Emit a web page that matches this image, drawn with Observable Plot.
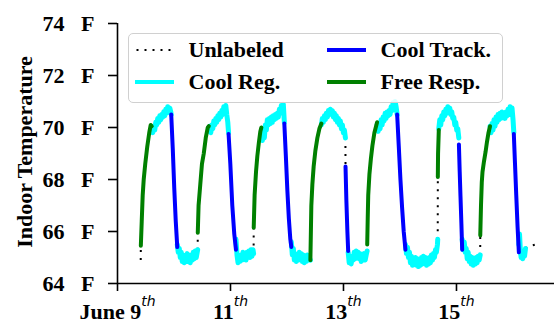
<!DOCTYPE html>
<html>
<head>
<meta charset="utf-8">
<script src="https://cdn.jsdelivr.net/npm/d3@7"></script>
<script src="https://cdn.jsdelivr.net/npm/@observablehq/plot@0.6"></script>
<style>
  body { margin: 0; background: #fff; }
  #wrap { position: relative; width: 554px; height: 325px; overflow: hidden;
          font-family: "Liberation Serif", "Times New Roman", serif; font-weight: bold; color: #000; }
  #wrap svg text { white-space: pre; }
  #wrap svg [aria-label$="axis tick"] path, #wrap svg .tick line { stroke-width: 1.6px; }
</style>
</head>
<body>
<div id="wrap"></div>
<script>
// ---------- data (x = day of June, y = indoor temperature in F) ----------
const modes = ["Unlabeled", "Cool Reg.", "Cool Track.", "Free Resp."];

const xDomain = [9, 16.735];
const xTickValues = [9, 11, 13, 15];
const xTickLabels = ["June 9", "11", "13", "15"];
const xTickSuffix = "th";

const yDomain = [64, 74];
const yTickValues = [64, 66, 68, 70, 72, 74];
const yTickLabels = ["64   F", "66   F", "68   F", "70   F", "72   F", "74   F"];
const yLabel = "Indoor Temperature";

const unlabeled = [
  [[9.411,64.9],[9.413,65.45]],
  [[10.419,65.3],[10.421,65.95]],
  [[11.409,65.15],[11.411,66.15]],
  [[13.034,69.6],[13.036,68.5]],
  [[13.418,65.25],[13.420,65.5]],
  [[14.668,65.7],[14.670,68.1]],
  [[15.041,69.6],[15.043,69.35]],
  [[15.420,65.1],[15.421,65.85]],
  [[16.222,65.35],[16.31,65.45],[16.40,65.5]]
];

const coolReg = [
  [[9.606,69.95],[9.624,69.8],[9.641,70.05],[9.659,69.9],[9.677,70.2],[9.694,70.1],[9.712,70.35],[9.730,70.2],[9.748,70.45],[9.765,70.3],[9.783,70.5],[9.801,70.4],[9.818,70.6],[9.836,70.45],[9.854,70.7],[9.872,70.55],[9.889,70.8],[9.907,70.65],[9.925,70.75],[9.943,70.6],[9.951,70.5]],
  [[10.058,65.5],[10.075,65.2],[10.093,65.35],[10.111,65.0],[10.128,65.2],[10.146,64.85],[10.164,65.1],[10.182,64.8],[10.199,65.05],[10.217,64.9],[10.235,65.15],[10.252,64.85],[10.270,65.0],[10.288,64.8],[10.306,65.1],[10.323,64.9],[10.341,65.2],[10.359,64.95],[10.376,65.25],[10.394,65.0],[10.419,65.3]],
  [[10.616,69.85],[10.633,70.05],[10.651,69.8],[10.669,70.1],[10.687,69.95],[10.704,70.25],[10.722,70.1],[10.740,70.35],[10.757,70.2],[10.775,70.45],[10.793,70.3],[10.810,70.55],[10.828,70.4],[10.846,70.65],[10.864,70.5],[10.881,70.8],[10.899,70.6],[10.917,70.85],[10.934,70.5],[10.952,70.2],[10.966,69.8]],
  [[11.097,65.7],[11.115,65.1],[11.133,64.8],[11.150,65.05],[11.168,64.85],[11.186,65.1],[11.204,64.9],[11.221,65.2],[11.239,64.95],[11.257,65.15],[11.274,64.9],[11.292,65.2],[11.310,65.0],[11.327,65.25],[11.345,65.0],[11.363,65.3],[11.381,65.05],[11.398,65.3],[11.409,65.15]],
  [[11.546,69.7],[11.564,69.5],[11.581,69.9],[11.599,69.6],[11.617,70.1],[11.635,69.9],[11.652,70.3],[11.670,70.1],[11.688,70.35],[11.705,70.15],[11.723,70.4],[11.741,70.2],[11.758,70.45],[11.776,70.3],[11.794,70.5],[11.812,70.35],[11.829,70.55],[11.847,70.4],[11.865,70.7],[11.882,70.55],[11.900,70.85],[11.918,70.65],[11.935,70.9],[11.953,70.2]],
  [[12.077,65.6],[12.094,65.1],[12.112,65.35],[12.130,64.9],[12.147,65.15],[12.165,64.85],[12.183,65.1],[12.201,64.9],[12.218,65.2],[12.236,64.95],[12.254,65.15],[12.271,64.85],[12.289,65.1],[12.307,64.8],[12.324,65.05],[12.342,64.85],[12.360,65.1],[12.378,64.9],[12.395,65.0],[12.414,64.9]],
  [[12.609,70.1],[12.626,70.35],[12.644,70.2],[12.662,70.45],[12.680,70.3],[12.697,70.55],[12.715,70.4],[12.733,70.65],[12.750,70.5],[12.768,70.7],[12.786,70.5],[12.803,70.65],[12.821,70.4],[12.839,70.55],[12.857,70.3],[12.874,70.45],[12.892,70.2],[12.910,70.35],[12.927,70.1],[12.945,70.25],[12.963,69.95],[12.980,70.1],[12.998,69.8],[13.016,69.9],[13.034,69.6]],
  [[13.083,65.2],[13.101,64.8],[13.119,65.0],[13.136,64.75],[13.154,65.05],[13.172,64.9],[13.189,65.2],[13.207,64.95],[13.225,65.25],[13.243,65.0],[13.260,65.2],[13.278,64.95],[13.296,65.15],[13.313,64.85],[13.331,65.1],[13.349,64.9],[13.366,65.15],[13.384,64.9],[13.402,65.1],[13.418,65.25]],
  [[13.595,70.1],[13.613,69.85],[13.631,70.15],[13.648,69.95],[13.666,70.3],[13.684,70.1],[13.701,70.4],[13.719,70.25],[13.737,70.55],[13.754,70.35],[13.772,70.6],[13.790,70.45],[13.808,70.65],[13.825,70.5],[13.843,70.8],[13.861,70.65],[13.878,70.95],[13.896,70.75],[13.914,71.0],[13.931,70.8],[13.950,70.5]],
  [[14.097,65.5],[14.115,65.15],[14.132,65.4],[14.150,65.0],[14.168,65.2],[14.185,64.8],[14.203,65.05],[14.221,64.7],[14.239,64.95],[14.256,64.75],[14.274,65.0],[14.292,64.7],[14.309,64.95],[14.327,64.65],[14.345,64.9],[14.362,64.7],[14.380,65.0],[14.398,64.75],[14.415,65.05],[14.433,64.8],[14.451,65.0],[14.469,64.7],[14.486,64.95],[14.504,64.75],[14.522,65.0],[14.539,64.8],[14.557,65.1],[14.575,64.9],[14.592,65.15],[14.610,65.0],[14.628,65.3],[14.645,65.2],[14.663,65.5],[14.668,65.7]],
  [[14.687,69.95],[14.704,70.3],[14.722,70.1],[14.740,70.45],[14.757,70.3],[14.775,70.6],[14.793,70.45],[14.811,70.7],[14.828,70.55],[14.846,70.8],[14.864,70.65],[14.881,70.75],[14.899,70.5],[14.917,70.6],[14.934,70.35],[14.952,70.4],[14.970,70.1],[14.987,70.2],[15.005,69.9],[15.023,69.95],[15.041,69.6]],
  [[15.101,65.7],[15.119,65.3],[15.137,65.6],[15.154,65.2],[15.172,65.35],[15.190,64.95],[15.207,65.2],[15.225,64.85],[15.243,65.05],[15.260,64.75],[15.278,65.0],[15.296,64.7],[15.314,64.95],[15.331,64.75],[15.349,65.0],[15.367,64.8],[15.384,65.05],[15.402,64.9],[15.420,65.1]],
  [[15.594,70.05],[15.611,69.8],[15.629,70.15],[15.647,69.9],[15.664,70.3],[15.682,70.05],[15.700,70.4],[15.718,70.2],[15.735,70.5],[15.753,70.3],[15.771,70.55],[15.788,70.35],[15.806,70.6],[15.824,70.4],[15.841,70.55],[15.859,70.35],[15.877,70.6],[15.895,70.45],[15.912,70.7],[15.930,70.5],[15.948,70.8],[15.965,70.6],[15.983,70.75],[16.001,70.3],[16.015,69.8]],
  [[16.104,65.5],[16.116,65.9],[16.130,65.3],[16.144,65.0],[16.159,65.25],[16.173,64.95],[16.187,65.2],[16.205,65.05],[16.222,65.35]]
];

const coolTrack = [
  [[9.951,70.5],[9.978,69.2],[10.004,67.7],[10.031,66.4],[10.058,65.4]],
  [[10.966,69.75],[10.997,68.6],[11.032,67.0],[11.067,65.9],[11.097,65.3]],
  [[11.953,70.15],[11.980,68.9],[12.006,67.6],[12.033,66.5],[12.059,65.7],[12.077,65.4]],
  [[13.036,68.5],[13.051,67.2],[13.069,66.0],[13.083,65.25]],
  [[13.950,70.5],[13.978,69.3],[14.008,68.0],[14.038,66.9],[14.066,66.0],[14.097,65.3]],
  [[15.043,69.35],[15.057,68.3],[15.071,67.35],[15.087,66.3],[15.101,65.3]],
  [[16.015,69.75],[16.036,68.6],[16.058,67.4],[16.081,66.2],[16.104,65.2]]
];

const freeResp = [
  [[9.413,65.45],[9.429,66.4],[9.446,67.4],[9.464,68.0],[9.491,68.6],[9.526,69.25],[9.562,69.8],[9.588,70.1],[9.606,70.05]],
  [[10.421,65.95],[10.435,67.0],[10.465,67.8],[10.495,68.6],[10.527,69.0],[10.562,69.6],[10.598,70.0],[10.616,70.05]],
  [[11.411,66.15],[11.427,67.4],[11.452,68.3],[11.475,68.9],[11.501,69.4],[11.528,69.85],[11.546,70.0]],
  [[12.414,64.9],[12.423,66.0],[12.431,67.0],[12.449,67.8],[12.472,68.5],[12.502,69.1],[12.538,69.6],[12.573,69.95],[12.609,70.15]],
  [[13.420,65.5],[13.429,66.5],[13.438,67.4],[13.459,68.2],[13.485,68.8],[13.512,69.3],[13.547,69.8],[13.595,70.2]],
  [[14.670,68.1],[14.674,69.0],[14.687,69.9]],
  [[15.421,65.85],[15.434,67.0],[15.448,67.9],[15.461,68.3],[15.487,68.7],[15.514,69.05],[15.540,69.45],[15.567,69.8],[15.594,70.05]]
];

// ---------- styles ----------
const modeStroke = {"Unlabeled": "#000000", "Cool Reg.": "#00ffff", "Cool Track.": "#0000ff", "Free Resp.": "#008000"};
const modeWidth = {"Unlabeled": 2, "Cool Reg.": 5, "Cool Track.": 4, "Free Resp.": 4};
const legendWidth = {"Unlabeled": 2, "Cool Reg.": 4, "Cool Track.": 4, "Free Resp.": 4};
const modeDash = {"Unlabeled": "2,6", "Cool Reg.": null, "Cool Track.": null, "Free Resp.": null};
const seriesByMode = {"Unlabeled": unlabeled, "Cool Reg.": coolReg, "Cool Track.": coolTrack, "Free Resp.": freeResp};

const toRows = (segs) => segs.flatMap((seg, i) => seg.map(([x, y]) => ({seg: i, x, y})));

const lineMarks = modes.map(m => Plot.line(toRows(seriesByMode[m]), {
  x: "x", y: "y", z: "seg",
  stroke: modeStroke[m], strokeWidth: modeWidth[m],
  strokeDasharray: modeDash[m] || undefined,
  strokeLinecap: m === "Unlabeled" ? "butt" : "round",
  strokeLinejoin: "round"
}));

const chart = Plot.plot({
  width: 554, height: 325,
  marginLeft: 117, marginRight: 0, marginTop: 23, marginBottom: 42,
  style: {fontFamily: '"Liberation Serif", "Times New Roman", serif', fontSize: "22px", fontWeight: "bold", background: "transparent", overflow: "visible", color: "#000"},
  x: {type: "linear", domain: xDomain, ticks: xTickValues,
      tickFormat: d => xTickLabels[xTickValues.indexOf(d)] ?? "", tickSize: 8, tickPadding: 12, label: null},
  y: {domain: yDomain, ticks: yTickValues,
      tickFormat: d => yTickLabels[yTickValues.indexOf(d)] ?? "", tickSize: 9, tickPadding: 14, label: null},
  marks: [
    Plot.ruleX([xDomain[0]], {stroke: "#000", strokeWidth: 1.6}),
    Plot.ruleY([yDomain[0]], {stroke: "#000", strokeWidth: 1.6}),
    ...lineMarks
  ]
});

// superscript "th" on the date ticks
chart.querySelectorAll("text").forEach(t => {
  if (xTickLabels.includes(t.textContent)) {
    const sup = document.createElementNS("http://www.w3.org/2000/svg", "tspan");
    sup.textContent = xTickSuffix;
    sup.setAttribute("dy", "-13");
    sup.setAttribute("font-family", '"DejaVu Sans", sans-serif');
    sup.setAttribute("font-style", "italic");
    sup.setAttribute("font-weight", "normal");
    sup.setAttribute("font-size", "14");
    t.appendChild(sup);
  }
});

const wrap = document.getElementById("wrap");
wrap.appendChild(chart);

// y-axis title
const yl = document.createElement("div");
yl.textContent = yLabel;
yl.style.cssText = "position:absolute;left:24.5px;top:152px;transform:translate(-50%,-50%) rotate(-90deg);white-space:nowrap;font-size:22px;";
wrap.appendChild(yl);

// legend (inside the plot area)
const legend = document.createElement("div");
legend.style.cssText = "position:absolute;left:128px;top:33px;width:375px;height:70px;box-sizing:border-box;border:1.5px solid #d0d0d0;border-radius:5px;background:rgba(255,255,255,0.85);";
modes.forEach((m, i) => {
  const col = Math.floor(i / 2), row = i % 2;
  const item = document.createElement("div");
  item.style.cssText = `position:absolute;left:${5.5 + col * 192}px;top:${3.5 + row * 32}px;height:24px;display:flex;align-items:center;white-space:nowrap;font-size:22px;`;
  const dash = modeDash[m] ? `stroke-dasharray="${modeDash[m]}" stroke-dashoffset="-1.5"` : "";
  item.innerHTML = `<svg width="39" height="8" style="margin-right:15px;display:block"><line x1="0" y1="4" x2="39" y2="4" stroke="${modeStroke[m]}" stroke-width="${legendWidth[m]}" ${dash}/></svg><span>${m}</span>`;
  legend.appendChild(item);
});
wrap.appendChild(legend);
</script>
</body>
</html>
